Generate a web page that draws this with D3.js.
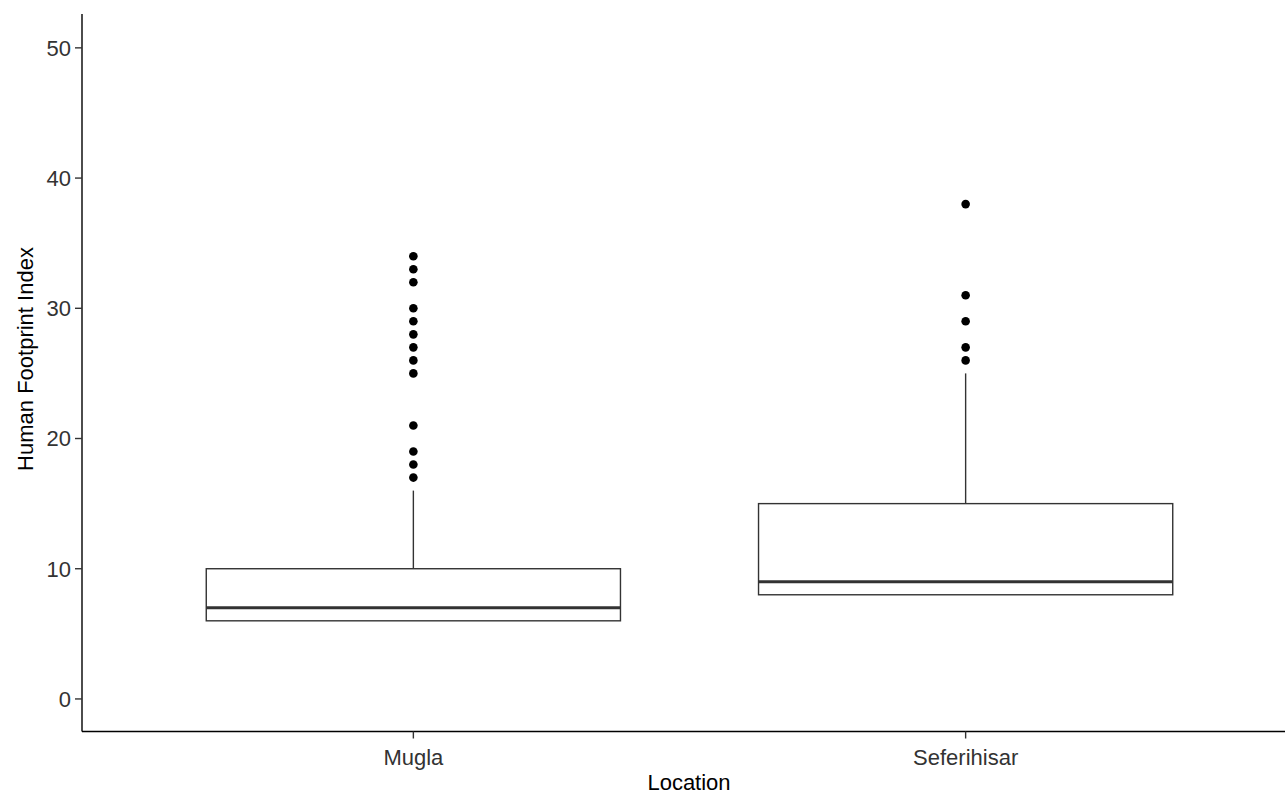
<!DOCTYPE html>
<html>
<head>
<meta charset="utf-8">
<script src="https://cdn.jsdelivr.net/npm/d3@7"></script>
<style>
  html, body { margin: 0; padding: 0; background: #fff; }
  svg { display: block; font-family: "Liberation Sans", Arial, sans-serif; }
</style>
</head>
<body>
<svg id="chart" width="1285" height="795"></svg>
<script>
// ---- data ----
const categories = ["Mugla", "Seferihisar"];
const q1Values = [6, 8];
const medianValues = [7, 9];
const q3Values = [10, 15];
const whiskerLow = [6, 8];
const whiskerHigh = [16, 25];
const outliersMugla = [34, 33, 32, 30, 29, 28, 27, 26, 25, 21, 19, 18, 17];
const outliersSeferihisar = [38, 31, 29, 27, 26];
const outlierSets = [outliersMugla, outliersSeferihisar];
const yTicks = [0, 10, 20, 30, 40, 50];
const xTitle = "Location";
const yTitle = "Human Footprint Index";

// ---- layout ----
const svg = d3.select("#chart");
const panel = { left: 82, right: 1297, top: 14, bottom: 731.5 };

const x = d3.scaleLinear().domain([0.4, 2.6]).range([panel.left, panel.right]);
const y = d3.scaleLinear().domain([-2.5, 52.6]).range([panel.bottom, panel.top]);
const xPos = i => x(i + 1);
const boxHalf = (x(1.375) - x(1));

const boxes = categories.map((c, i) => ({
  cat: c, i,
  q1: q1Values[i], med: medianValues[i], q3: q3Values[i],
  lo: whiskerLow[i], hi: whiskerHigh[i], out: outlierSets[i]
}));

const g = svg.append("g");

// whiskers
g.selectAll("line.whi").data(boxes).join("line")
  .attr("x1", d => xPos(d.i)).attr("x2", d => xPos(d.i))
  .attr("y1", d => y(d.q3)).attr("y2", d => y(d.hi))
  .attr("stroke", "#333").attr("stroke-width", 1.4);
g.selectAll("line.wlo").data(boxes).join("line")
  .attr("x1", d => xPos(d.i)).attr("x2", d => xPos(d.i))
  .attr("y1", d => y(d.q1)).attr("y2", d => y(d.lo))
  .attr("stroke", "#333").attr("stroke-width", 1.4);

// boxes
g.selectAll("rect.box").data(boxes).join("rect")
  .attr("x", d => xPos(d.i) - boxHalf)
  .attr("width", 2 * boxHalf)
  .attr("y", d => y(d.q3))
  .attr("height", d => y(d.q1) - y(d.q3))
  .attr("fill", "#fff").attr("stroke", "#333").attr("stroke-width", 1.4);

// medians
g.selectAll("line.med").data(boxes).join("line")
  .attr("x1", d => xPos(d.i) - boxHalf).attr("x2", d => xPos(d.i) + boxHalf)
  .attr("y1", d => y(d.med)).attr("y2", d => y(d.med))
  .attr("stroke", "#333").attr("stroke-width", 3);

// outliers
boxes.forEach(b => {
  g.selectAll(null).data(b.out).join("circle")
    .attr("cx", xPos(b.i)).attr("cy", v => y(v))
    .attr("r", 4.3).attr("fill", "#000");
});

// axes lines
svg.append("line")
  .attr("x1", panel.left).attr("x2", panel.left)
  .attr("y1", panel.top).attr("y2", panel.bottom)
  .attr("stroke", "#000").attr("stroke-width", 1.4);
svg.append("line")
  .attr("x1", panel.left).attr("x2", 1285)
  .attr("y1", panel.bottom).attr("y2", panel.bottom)
  .attr("stroke", "#000").attr("stroke-width", 1.4);

// y ticks
const yt = svg.append("g");
yt.selectAll("line").data(yTicks).join("line")
  .attr("x1", panel.left - 7).attr("x2", panel.left)
  .attr("y1", d => y(d)).attr("y2", d => y(d))
  .attr("stroke", "#333").attr("stroke-width", 1.4);
yt.selectAll("text").data(yTicks).join("text")
  .attr("x", 71).attr("y", d => y(d))
  .attr("dy", "0.36em")
  .attr("text-anchor", "end")
  .attr("font-size", 22).attr("fill", "#333")
  .text(d => d);

// x ticks
const xt = svg.append("g");
xt.selectAll("line").data(boxes).join("line")
  .attr("x1", d => xPos(d.i)).attr("x2", d => xPos(d.i))
  .attr("y1", panel.bottom).attr("y2", panel.bottom + 7)
  .attr("stroke", "#333").attr("stroke-width", 1.4);
xt.selectAll("text").data(boxes).join("text")
  .attr("x", d => xPos(d.i)).attr("y", 765)
  .attr("text-anchor", "middle")
  .attr("font-size", 22).attr("fill", "#333")
  .text(d => d.cat);

// titles
svg.append("text")
  .attr("x", 689).attr("y", 790)
  .attr("text-anchor", "middle")
  .attr("font-size", 22).attr("fill", "#000")
  .text(xTitle);
svg.append("text")
  .attr("transform", "translate(33,359) rotate(-90)")
  .attr("text-anchor", "middle")
  .attr("font-size", 22).attr("fill", "#000")
  .text(yTitle);
</script>
</body>
</html>
